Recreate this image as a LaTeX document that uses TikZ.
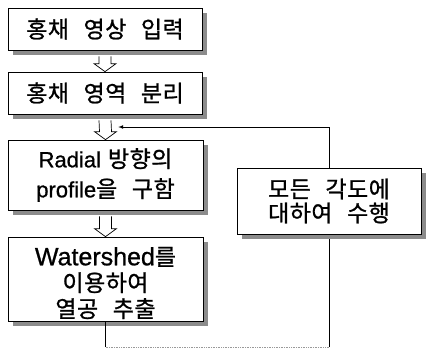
\documentclass[tikz,border=0pt]{standalone}
\usepackage{fontspec}
\newfontfamily\kr[WordSpace=2.6,LetterSpace=2,FakeBold=1]{Noto Sans CJK KR}
\newfontfamily\lat[FakeBold=0.8]{Liberation Sans}
\usetikzlibrary{calc}
\begin{document}
\begin{tikzpicture}[x=1pt,y=-1pt,
  box/.style={draw=black,line width=0.7pt,fill=white,align=center,inner sep=0pt},
  shadowfill/.style={fill=black!45},
  hollow/.style={draw=black,line width=0.7pt,fill=white},
  loopline/.style={draw=black,line width=0.7pt}]
\useasboundingbox (0,0) rectangle (426,349);
\node[box,minimum width=194pt,minimum height=42pt,font=\kr\fontsize{23}{24}\selectfont] (b1) at (105,29) {홍채 영상 입력};
\node[box,minimum width=194pt,minimum height=42pt,font=\kr\fontsize{23}{24}\selectfont] (b2) at (105,93) {홍채 영역 분리};
\node[box,minimum width=195pt,minimum height=70pt,font=\kr\fontsize{23}{30}\selectfont] (b3) at (105.5,175) {{\lat\fontsize{22}{30}\selectfont Radial}\hspace{7pt}방향의\\{\lat\fontsize{22}{30}\selectfont profile}을 구함};
\node[box,minimum width=195pt,minimum height=84pt] (b5) at (105.5,279) {};
\node[font=\kr\fontsize{23}{26}\selectfont,align=center,inner sep=0pt] (t5) at ($(b5.center)+(0,4)$) {{\lat\fontsize{25}{26}\selectfont Watershed}를\\이용하여\\열공 추출};
\node[box,minimum width=184pt,minimum height=66pt,font=\kr\fontsize{23}{24}\selectfont] (b4) at (329,201) {모든 각도에\\대하여 수행};
% shadows
\foreach \b in {b1,b2,b3,b5,b4}{
  \fill[shadowfill] ($(\b.north east)+(0.35,5)$) rectangle ($(\b.south east)+(5,5)$);
  \fill[shadowfill] ($(\b.south west)+(5,0.35)$) rectangle ($(\b.south east)+(5,5)$);
}
% hollow arrows
\foreach \a/\b in {b1/b2,b2/b3,b3/b5}{
  \draw[hollow] ($(\a.south)+(-6,6)$) -- ($(\b.north)+(-6,-8)$) -- ($(\b.north)+(-11,-8)$)
    -- (\b.north) -- ($(\b.north)+(11,-8)$) -- ($(\b.north)+(6,-8)$) -- ($(\a.south)+(6,6)$);
}
% feedback loop
\coordinate (tip) at ($(b2.south)!0.5!(b3.north)+(13,0)$);
\draw[loopline] (b5.south) -- (b5.south |- 0,347);
\draw[loopline,black!40,densely dotted] (b5.south |- 0,347) -- (b4.south |- 0,347);
\draw[loopline] (b4.south |- 0,347) -- ($(b4.south)+(0,5)$);
\draw[loopline,-latex] (b4.north) -- (b4.north |- tip) -- (tip);
\end{tikzpicture}
\end{document}
